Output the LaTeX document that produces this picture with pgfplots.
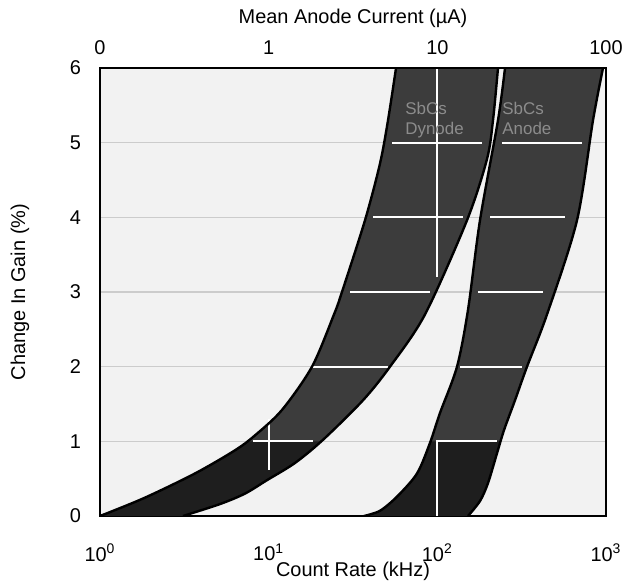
\documentclass[border=0pt]{standalone}
\usepackage{fontspec}
\setmainfont{Liberation Sans}
\usepackage{pgfplots}
\usepackage{pgfplotstable}
\usepgfplotslibrary{fillbetween}
\pgfplotsset{compat=1.18}
\definecolor{band}{HTML}{3C3C3C}
\definecolor{bandlow}{HTML}{1E1E1E}
\definecolor{bg}{HTML}{F2F2F2}
\definecolor{bandtxt}{HTML}{8C8C8C}

% Band 1 (SbCs dynode): left and right edges, bottom to top
\pgfplotstableread{
x y
1 0
1.824 0.24
3.659 0.57
6.316 0.88
8.298 1.08
11.99 1.42
18.07 2.0
24.4 2.7
27.2 3.0
37.25 3.96
45.71 4.72
51.0 5.3
56.9 6
}\bandAleft
\pgfplotstableread{
x y
3.105 0
5.147 0.16
7.239 0.3
9.775 0.48
14.32 0.71
20.99 1.02
36.25 1.55
52.40 2.0
84.53 2.7
149.9 3.96
197.0 4.78
213.8 5.3
228.9 6
}\bandAright
\pgfplotstableread{
x y
1 0
1.824 0.24
3.659 0.57
6.316 0.88
7.44 1
}\bandAleftlow
\pgfplotstableread{
x y
3.105 0
5.147 0.16
7.239 0.3
9.775 0.48
14.32 0.71
20.43 1
}\bandArightlow
% Band 2 (SbCs anode)
\pgfplotstableread{
x y
36.7 0
45.7 0.07
57.7 0.26
75.8 0.57
90.5 0.98
103.7 1.38
130.8 2.0
152.0 2.76
179.0 3.96
228.9 5.3
251.9 6
}\bandBleft
\pgfplotstableread{
x y
152.0 0
179.0 0.2
199.7 0.44
225.8 0.84
248.5 1.15
288.7 1.55
340.1 2.0
446.9 2.7
673.0 3.96
837.4 5.3
959.8 6
}\bandBright
\pgfplotstableread{
x y
36.7 0
45.7 0.07
57.7 0.26
75.8 0.57
91.1 1
}\bandBleftlow
\pgfplotstableread{
x y
152.0 0
179.0 0.2
199.7 0.44
225.8 0.84
237.1 1
}\bandBrightlow

\begin{document}
\begin{tikzpicture}
\begin{axis}[
  at={(0,0)}, anchor=south west,
  scale only axis, width=253bp, height=224bp,
  xmode=log, xmin=1, xmax=1000, ymin=0, ymax=6,
  xtick={1,10,100,1000},
  xticklabels={10\textsuperscript{0},10\textsuperscript{1},10\textsuperscript{2},10\textsuperscript{3}},
  ytick={0,1,2,3,4,5,6},
  tick style={draw=none},
  minor tick length=0pt, major tick length=0pt,
  ymajorgrids, grid style={gray!40, line width=0.6bp},
  axis background/.style={fill=bg},
  axis line style={line width=1bp},
  /pgf/number format/assume math mode=true,
  tick label style={font=\fontsize{10}{12}\selectfont},
  xticklabel style={yshift=-10.5bp},
  yticklabel style={xshift=-6bp},
  xlabel={Count Rate (kHz)}, ylabel={Change In Gain (\%)},
  label style={font=\fontsize{10}{12}\selectfont},
  xlabel style={at={(axis description cs:0.5,0)}, anchor=center, yshift=-27.5bp},
  ylabel style={at={(axis description cs:0,0.5)}, anchor=center, yshift=40bp},
]
\addplot[name path=L1, draw=none, smooth] table {\bandAleft};
\addplot[name path=R1, draw=none, smooth] table {\bandAright};
\addplot[name path=L2, draw=none, smooth] table {\bandBleft};
\addplot[name path=R2, draw=none, smooth] table {\bandBright};
\addplot[name path=L1b, draw=none, smooth] table {\bandAleftlow};
\addplot[name path=R1b, draw=none, smooth] table {\bandArightlow};
\addplot[name path=L2b, draw=none, smooth] table {\bandBleftlow};
\addplot[name path=R2b, draw=none, smooth] table {\bandBrightlow};
\addplot[fill=band, draw=none] fill between[of=L1 and R1];
\addplot[fill=band, draw=none] fill between[of=L2 and R2];
\addplot[fill=bandlow, draw=none] fill between[of=L1b and R1b];
\addplot[fill=bandlow, draw=none] fill between[of=L2b and R2b];
% white grid lines visible through the bands
\addplot[white, line width=0.9bp] coordinates {(8.07,1) (18.3,1)};
\addplot[white, line width=0.9bp] coordinates {(18.3,2) (51.0,2)};
\addplot[white, line width=0.9bp] coordinates {(30.4,3) (90.5,3)};
\addplot[white, line width=0.9bp] coordinates {(41.6,4) (142,4)};
\addplot[white, line width=0.9bp] coordinates {(53.9,5) (184,5)};
\addplot[white, line width=0.9bp] coordinates {(10,0.62) (10,1.3)};
\addplot[white, line width=0.9bp] coordinates {(99.5,3.2) (99.5,6)};
\addplot[white, line width=0.9bp] coordinates {(99.5,0) (99.5,1) (225.8,1)};
\addplot[white, line width=0.9bp] coordinates {(136.3,2) (317.7,2)};
\addplot[white, line width=0.9bp] coordinates {(174.2,3) (423.1,3)};
\addplot[white, line width=0.9bp] coordinates {(205.3,4) (571.3,4)};
\addplot[white, line width=0.9bp] coordinates {(241.7,5) (720.6,5)};
% outlines
\addplot[draw=black, line width=1.2bp, smooth] table {\bandAleft};
\addplot[draw=black, line width=1.2bp, smooth] table {\bandAright};
\addplot[draw=black, line width=1.2bp, smooth] table {\bandBleft};
\addplot[draw=black, line width=1.2bp, smooth] table {\bandBright};
\node[anchor=north west, text=bandtxt, font=\fontsize{8.5}{10}\selectfont, align=left, inner sep=0pt] at (axis cs:64.3,5.55) {SbCs\\Dynode};
\node[anchor=north west, text=bandtxt, font=\fontsize{8.5}{10}\selectfont, align=left, inner sep=0pt] at (axis cs:241.7,5.55) {SbCs\\Anode};
\end{axis}
\begin{axis}[
  at={(0,0)}, anchor=south west,
  scale only axis, width=253bp, height=224bp,
  xmode=log, xmin=1, xmax=1000, ymin=0, ymax=6,
  axis x line*=top, axis y line=none,
  xtick={1,10,100,1000},
  xticklabels={0,1,10,100},
  tick style={draw=none},
  minor tick length=0pt, major tick length=0pt,
  axis line style={line width=1bp},
  /pgf/number format/assume math mode=true,
  tick label style={font=\fontsize{10}{12}\selectfont},
  xticklabel style={yshift=3bp},
  xlabel={Mean Anode Current (µA)},
  label style={font=\fontsize{10}{12}\selectfont},
  xlabel style={at={(axis description cs:0.5,1)}, anchor=center, yshift=25bp},
]
\addplot[draw=none] coordinates {(1,0) (1000,6)};
\end{axis}
\pgfresetboundingbox
\path[use as bounding box] (-50bp,-33bp) rectangle (263bp,258bp);
\end{tikzpicture}
\end{document}
